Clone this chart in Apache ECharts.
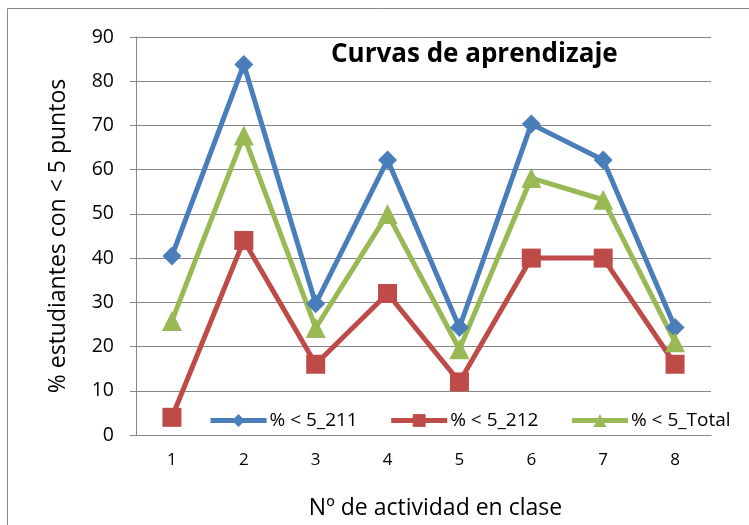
<!DOCTYPE html>
<html>
<head>
<meta charset="utf-8">
<script src="https://cdn.jsdelivr.net/npm/echarts@6/dist/echarts.min.js"></script>
<style>
  html, body { margin: 0; padding: 0; background: #fff; }
  #chart { width: 749px; height: 525px; }
</style>
</head>
<body>
<div id="chart"></div>
<script>
// datos
const actividades = ['1', '2', '3', '4', '5', '6', '7', '8'];
const serie211 = [40.5, 83.8, 29.7, 62.2, 24.3, 70.3, 62.2, 24.3];
const serie212 = [4, 44, 16, 32, 12, 40, 40, 16];
const serieTotal = [25.8, 67.7, 24.2, 50, 19.4, 58.1, 53.2, 21];
const nombres = ['% < 5_211', '% < 5_212', '% < 5_Total'];

const font = 'Open Sans, Calibri, sans-serif';

function linea(name, data, color, symbol, size) {
  return {
    name: name,
    type: 'line',
    data: data,
    symbol: symbol,
    symbolSize: size,
    lineStyle: { color: color, width: 5 },
    itemStyle: { color: color },
    z: 3
  };
}

const chart = echarts.init(document.getElementById('chart'));
chart.setOption({
  animation: false,
  title: {
    text: 'Curvas de aprendizaje',
    left: 326, top: 37,
    textStyle: { fontFamily: font, fontSize: 26, fontWeight: 'bold', color: '#000' }
  },
  legend: {
    left: 208, top: 411,
    padding: 0,
    itemGap: 31,
    itemWidth: 56, itemHeight: 16,
    lineStyle: { width: 5 },
    textStyle: { fontFamily: font, fontSize: 19, color: '#000', padding: [0, 0, 0, -2] },
    data: nombres
  },
  graphic: [{
    type: 'rect',
    shape: { x: 7.5, y: 8.5, width: 760, height: 540 },
    style: { fill: 'none', stroke: '#888', lineWidth: 1 },
    silent: true
  }],
  grid: { left: 136, right: 38, top: 37, bottom: 88 },
  xAxis: {
    type: 'category',
    data: actividades,
    boundaryGap: true,
    name: 'Nº de actividad en clase',
    nameLocation: 'middle',
    nameGap: 62,
    nameTextStyle: { fontFamily: font, fontSize: 23, color: '#000', padding: [0, 0, 0, 24] },
    axisLine: { lineStyle: { color: '#868686', width: 1 } },
    axisTick: { length: 6, lineStyle: { color: '#868686' } },
    axisLabel: { fontFamily: font, fontSize: 17, color: '#000', margin: 17 }
  },
  yAxis: {
    type: 'value',
    min: 0, max: 90, interval: 10,
    name: '% estudiantes con < 5 puntos',
    nameLocation: 'middle',
    nameGap: 66,
    nameTextStyle: { fontFamily: font, fontSize: 23, color: '#000' },
    axisLine: { show: true, lineStyle: { color: '#868686', width: 1 } },
    axisTick: { show: true, length: 6, lineStyle: { color: '#868686' } },
    axisLabel: { fontFamily: font, fontSize: 19.5, color: '#000', margin: 22 },
    splitLine: { lineStyle: { color: '#868686', width: 1 } }
  },
  series: [
    linea(nombres[0], serie211, '#4a7ebb', 'diamond', 19),
    linea(nombres[1], serie212, '#be4b48', 'rect', 19),
    linea(nombres[2], serieTotal, '#98b954', 'triangle', 20)
  ]
});
</script>
</body>
</html>
